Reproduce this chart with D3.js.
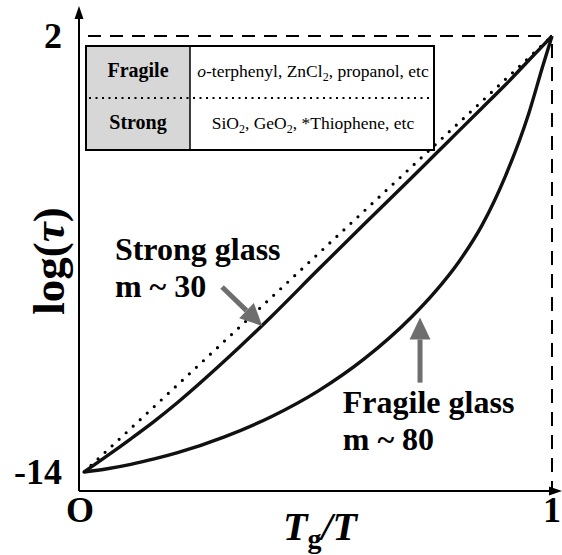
<!DOCTYPE html>
<html>
<head>
<meta charset="utf-8">
<script src="https://cdn.jsdelivr.net/npm/d3@7"></script>
<style>
  html, body { margin: 0; padding: 0; background: #fff; }
  svg { display: block; font-family: "Liberation Serif", "Times New Roman", serif; }
</style>
</head>
<body>
<svg id="chart" width="562" height="555"></svg>
<script>
// ---- data ----
const tgOverT = [0, 0.05, 0.1, 0.15, 0.2, 0.3, 0.4, 0.5, 0.6, 0.7, 0.75, 0.8, 0.85, 0.9, 0.95, 0.98, 1];
const strongLogTau = [-14, -13.4, -12.78, -12.14, -11.45, -9.93, -8.3, -6.58, -4.88, -3.2, -2.35, -1.5, -0.65, 0.2, 1.1, 1.64, 2];
const fragileLogTau = [-14, -13.88, -13.72, -13.52, -13.29, -12.71, -11.97, -11.03, -9.83, -8.31, -7.39, -6.31, -4.96, -3.16, -0.86, 0.88, 2];
const arrhenius = [[0, -14], [1, 2]];
const yTicks = [-14, 2];
const xTickLabels = [[0, "O"], [1, "1"]];
const tableRows = [
  { name: "Fragile", parts: [["o", true, false], ["-terphenyl, ZnCl", false, false], ["2", false, true], [", propanol, etc", false, false]] },
  { name: "Strong", parts: [["SiO", false, false], ["2", false, true], [", GeO", false, false], ["2", false, true], [", *Thiophene, etc", false, false]] }
];
const labels = [
  { x: 0.066, y: -6.22, lines: ["Strong glass", "m ~ 30"] },
  { x: 0.553, y: -11.83, lines: ["Fragile glass", "m ~ 80"] }
];
const arrows = [
  { from: [0.295, -7.21], to: [0.381, -8.64] },
  { from: [0.718, -10.72], to: [0.718, -8.33] }
];

// ---- layout ----
const svg = d3.select("#chart");
const x = d3.scaleLinear().domain([0, 1]).range([84, 552]);
const y = d3.scaleLinear().domain([-14, 2]).range([472, 36]);
const axisX = x(0) - 5;      // y-axis line position
const axisY = y(-14) + 19;   // x-axis line position

// dashed reference lines
svg.append("line")
  .attr("x1", axisX + 9).attr("x2", x(1)).attr("y1", y(2)).attr("y2", y(2))
  .attr("stroke", "#000").attr("stroke-width", 2).attr("stroke-dasharray", "13 9");
svg.append("line")
  .attr("x1", x(1)).attr("x2", x(1)).attr("y1", y(2) + 8).attr("y2", axisY)
  .attr("stroke", "#000").attr("stroke-width", 2).attr("stroke-dasharray", "14 9");

// axes
svg.append("line").attr("x1", axisX).attr("x2", axisX).attr("y1", axisY).attr("y2", 14)
  .attr("stroke", "#000").attr("stroke-width", 2);
svg.append("path").attr("d", `M${axisX},6 L${axisX - 4.5},19 L${axisX + 4.5},19 Z`).attr("fill", "#000");
svg.append("line").attr("x1", axisX).attr("x2", 554).attr("y1", axisY).attr("y2", axisY)
  .attr("stroke", "#000").attr("stroke-width", 2);
svg.append("path").attr("d", `M562,${axisY} L549,${axisY - 4.5} L549,${axisY + 4.5} Z`).attr("fill", "#000");

// tick labels
svg.selectAll("text.ytick").data(yTicks).enter().append("text")
  .attr("class", "ytick")
  .attr("x", 62).attr("y", d => y(d)).attr("dy", "0.34em")
  .attr("text-anchor", "end").attr("font-size", 36).attr("font-weight", "bold")
  .text(d => d);
svg.selectAll("text.xtick").data(xTickLabels).enter().append("text")
  .attr("class", "xtick")
  .attr("x", d => x(d[0]) - (d[0] === 0 ? 4 : 0)).attr("y", axisY + 31)
  .attr("text-anchor", "middle").attr("font-size", 36).attr("font-weight", "bold")
  .text(d => d[1]);

// axis titles
const xt = svg.append("text").attr("x", 320).attr("y", 540).attr("text-anchor", "middle")
  .attr("font-weight", "bold");
xt.append("tspan").attr("font-style", "italic").attr("font-size", 40).text("T");
xt.append("tspan").attr("font-size", 28).attr("dy", 8).text("g");
xt.append("tspan").attr("font-style", "italic").attr("font-size", 40).attr("dy", -8).text("/T");

const yt = svg.append("text").attr("transform", "translate(64,261) rotate(-90)")
  .attr("text-anchor", "middle").attr("font-weight", "bold").attr("font-size", 45);
yt.append("tspan").text("log(");
yt.append("tspan").attr("font-style", "italic").text("τ");
yt.append("tspan").text(")");

// table
const tbl = { x0: 86, x1: 190, x2: 434, y0: 46, y1: 98, y2: 150 };
svg.append("rect").attr("x", tbl.x0).attr("y", tbl.y0).attr("width", tbl.x1 - tbl.x0).attr("height", tbl.y2 - tbl.y0)
  .attr("fill", "#d7d7d7");
svg.append("rect").attr("x", tbl.x0).attr("y", tbl.y0).attr("width", tbl.x2 - tbl.x0).attr("height", tbl.y2 - tbl.y0)
  .attr("fill", "none").attr("stroke", "#000").attr("stroke-width", 2);
svg.append("line").attr("x1", tbl.x1).attr("x2", tbl.x1).attr("y1", tbl.y0).attr("y2", tbl.y2)
  .attr("stroke", "#000").attr("stroke-width", 1.5);
svg.append("line").attr("x1", tbl.x0 + 3).attr("x2", tbl.x2 - 2).attr("y1", tbl.y1).attr("y2", tbl.y1)
  .attr("stroke", "#000").attr("stroke-width", 2).attr("stroke-dasharray", "2 4.5");
tableRows.forEach((r, i) => {
  const by = (i === 0 ? tbl.y0 : tbl.y1) + 31;
  svg.append("text").attr("x", (tbl.x0 + tbl.x1) / 2).attr("y", by).attr("text-anchor", "middle")
    .attr("font-size", 20).attr("font-weight", "bold").text(r.name);
  const t = svg.append("text").attr("x", (tbl.x1 + tbl.x2) / 2 + 1).attr("y", by).attr("text-anchor", "middle")
    .attr("font-size", 17.5);
  let sub = false;
  r.parts.forEach(p => {
    const s = t.append("tspan").text(p[0]);
    if (p[1]) s.attr("font-style", "italic");
    if (p[2]) { s.attr("font-size", 12).attr("dy", 4); sub = true; }
    else if (sub) { s.attr("dy", -4); sub = false; }
  });
});

// curves
const line = d3.line().x(d => x(d[0])).y(d => y(d[1])).curve(d3.curveMonotoneX);
svg.append("path").datum(arrhenius).attr("d", d3.line().x(d => x(d[0])).y(d => y(d[1])))
  .attr("fill", "none").attr("stroke", "#000").attr("stroke-width", 3.2)
  .attr("stroke-linecap", "round").attr("stroke-dasharray", "0 9.6");
const series = [strongLogTau, fragileLogTau];
svg.selectAll("path.curve").data(series).enter().append("path")
  .attr("class", "curve")
  .attr("d", s => line(tgOverT.map((t, i) => [t, s[i]])))
  .attr("fill", "none").attr("stroke", "#111").attr("stroke-width", 3.4);

// arrows
const gray = "#6e6e6e";
arrows.forEach(a => {
  const x0 = x(a.from[0]), y0 = y(a.from[1]), x1 = x(a.to[0]), y1 = y(a.to[1]);
  const ang = Math.atan2(y1 - y0, x1 - x0);
  const hl = 22, hw = 10.5;
  const bx = x1 - hl * Math.cos(ang), by = y1 - hl * Math.sin(ang);
  svg.append("line").attr("x1", x0).attr("y1", y0).attr("x2", bx).attr("y2", by)
    .attr("stroke", gray).attr("stroke-width", 5);
  const px = -Math.sin(ang), py = Math.cos(ang);
  svg.append("path")
    .attr("d", `M${x1},${y1} L${bx + hw * px},${by + hw * py} L${bx - hw * px},${by - hw * py} Z`)
    .attr("fill", gray);
});

// annotation labels
labels.forEach(l => {
  l.lines.forEach((s, i) => {
    svg.append("text").attr("x", x(l.x)).attr("y", y(l.y) + i * 37)
      .attr("font-size", 32).attr("font-weight", "bold").text(s);
  });
});
</script>
</body>
</html>
